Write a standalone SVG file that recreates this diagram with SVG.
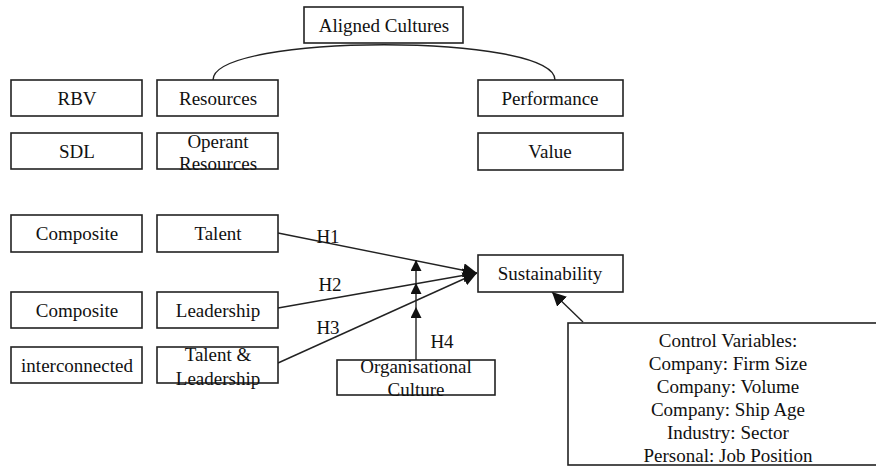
<svg xmlns="http://www.w3.org/2000/svg" width="876" height="470" viewBox="0 0 876 470">
<defs>
<style>
.box{fill:#fff;stroke:#222;stroke-width:1.6}
.t{font-family:"Liberation Serif","Times New Roman",serif;font-size:19px;fill:#111;text-anchor:middle}
.ln{fill:none;stroke:#222;stroke-width:1.4}
</style>
<marker id="ah" viewBox="0 0 10 10" refX="10" refY="5" markerWidth="12" markerHeight="11" markerUnits="userSpaceOnUse" orient="auto"><path d="M0,0 L10,5 L0,10 z" fill="#111"/></marker>
<marker id="big" viewBox="0 0 10 10" refX="10" refY="5" markerWidth="14" markerHeight="14" markerUnits="userSpaceOnUse" orient="auto"><path d="M0,0 L10,5 L0,10 z" fill="#111"/></marker>
</defs>
<rect width="876" height="470" fill="#fff"/>
<g id="connectors">
<path class="ln" d="M213,80 C213,33 555,33 555,80"/>
<line class="ln" x1="278" y1="233" x2="477" y2="273" marker-end="url(#big)"/>
<line class="ln" x1="278" y1="308" x2="477" y2="273" marker-end="url(#big)"/>
<line class="ln" x1="278" y1="363" x2="477" y2="273" marker-end="url(#big)"/>
<line class="ln" x1="416" y1="360" x2="416" y2="307" marker-end="url(#ah)"/>
<line class="ln" x1="416" y1="307" x2="416" y2="283" marker-end="url(#ah)"/>
<line class="ln" x1="416" y1="283" x2="416" y2="260" marker-end="url(#ah)"/>
<line class="ln" x1="583" y1="322" x2="552" y2="292" marker-end="url(#big)"/>
<text class="t" x="328" y="243">H1</text>
<text class="t" x="330" y="291">H2</text>
<text class="t" x="328" y="334">H3</text>
<text class="t" x="442" y="348">H4</text>
</g>
<g id="aligned"><rect class="box" x="304" y="7" width="159" height="36"/><text class="t" x="384" y="32">Aligned Cultures</text></g>
<g id="rbv"><rect class="box" x="11" y="80" width="131" height="36"/><text class="t" x="77" y="105">RBV</text></g>
<g id="resources"><rect class="box" x="157" y="80" width="121" height="36"/><text class="t" x="218" y="105">Resources</text></g>
<g id="performance"><rect class="box" x="478" y="80" width="145" height="36"/><text class="t" x="550" y="105">Performance</text></g>
<g id="sdl"><rect class="box" x="11" y="133" width="131" height="36"/><text class="t" x="77" y="158">SDL</text></g>
<g id="operant"><rect class="box" x="157" y="133" width="121" height="36"/><text class="t" x="218" y="148">Operant</text><text class="t" x="218" y="170">Resources</text></g>
<g id="value"><rect class="box" x="478" y="133" width="145" height="37"/><text class="t" x="550" y="158">Value</text></g>
<g id="composite1"><rect class="box" x="11" y="215" width="131" height="37"/><text class="t" x="77" y="240">Composite</text></g>
<g id="talent"><rect class="box" x="157" y="215" width="121" height="37"/><text class="t" x="218" y="240">Talent</text></g>
<g id="composite2"><rect class="box" x="11" y="292" width="131" height="36"/><text class="t" x="77" y="317">Composite</text></g>
<g id="leadership"><rect class="box" x="157" y="292" width="121" height="36"/><text class="t" x="218" y="317">Leadership</text></g>
<g id="interconnected"><rect class="box" x="11" y="347" width="131" height="36"/><text class="t" x="77" y="372">interconnected</text></g>
<g id="talentleadership"><rect class="box" x="157" y="347" width="121" height="36"/><text class="t" x="218" y="361">Talent &amp;</text><text class="t" x="218" y="385">Leadership</text></g>
<g id="sustainability"><rect class="box" x="478" y="255" width="145" height="37"/><text class="t" x="550" y="280">Sustainability</text></g>
<g id="orgculture"><rect class="box" x="337" y="360" width="158" height="35"/><text class="t" x="416" y="373">Organisational</text><text class="t" x="416" y="396">Culture</text></g>
<g id="controls"><rect class="box" x="568" y="323" width="320" height="142"/>
<text class="t" x="728" y="347">Control Variables:</text>
<text class="t" x="728" y="370">Company: Firm Size</text>
<text class="t" x="728" y="393">Company: Volume</text>
<text class="t" x="728" y="416">Company: Ship Age</text>
<text class="t" x="728" y="439">Industry: Sector</text>
<text class="t" x="728" y="462">Personal: Job Position</text>
</g>
</svg>
